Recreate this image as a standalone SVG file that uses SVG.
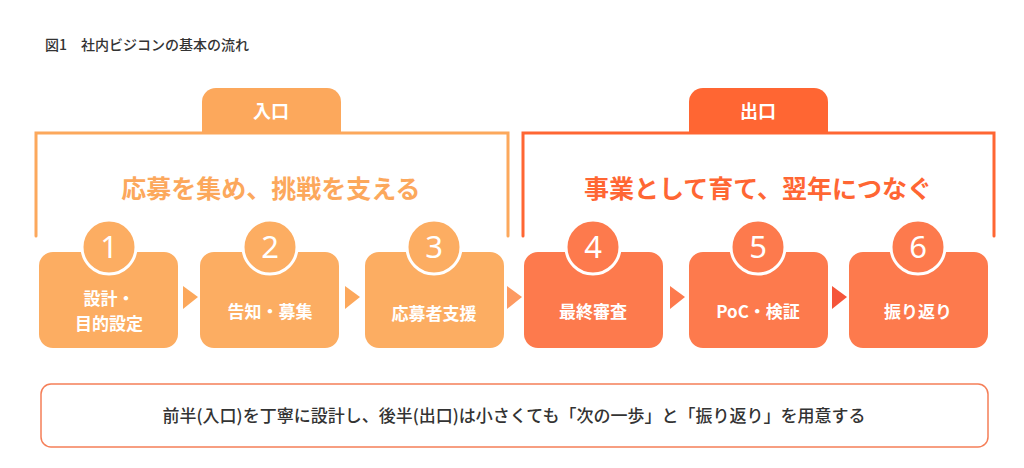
<svg xmlns="http://www.w3.org/2000/svg" width="1024" height="468" viewBox="0 0 1024 468">
<style>
text{font-family:"Noto Sans CJK JP","Noto Sans",sans-serif;font-weight:bold}
.w{fill:#fff}
.num{font-family:"Noto Sans",sans-serif;font-weight:normal;font-size:31px;fill:#fff;text-anchor:middle}
.lbl{font-size:17px;fill:#fff;text-anchor:middle}
.a{fill:#FCAD62}.b{fill:#FD7A4D}
</style>
<rect width="1024" height="468" fill="#fff"/>
<text x="45" y="50" font-size="14" fill="#333" style="font-weight:500">図1　社内ビジコンの基本の流れ</text>
<g id="entrance">
<rect x="202" y="88" width="139" height="46" rx="14" fill="#FCA85C"/>
<rect x="202" y="120" width="139" height="14" fill="#FCA85C"/>
<text x="271" y="118" font-size="18" class="w" text-anchor="middle">入口</text>
<path d="M36 236V133H508V236" fill="none" stroke="#FCA85C" stroke-width="3" stroke-linecap="round"/>
<text x="271" y="198" font-size="25" fill="#FCA85C" text-anchor="middle">応募を集め、挑戦を支える</text>
</g>
<g id="exit">
<rect x="689" y="88" width="139" height="46" rx="14" fill="#FF6633"/>
<rect x="689" y="120" width="139" height="14" fill="#FF6633"/>
<text x="758" y="118" font-size="18" class="w" text-anchor="middle">出口</text>
<path d="M523 236V133H994V236" fill="none" stroke="#FF6633" stroke-width="3" stroke-linecap="round"/>
<text x="758" y="198" font-size="25" fill="#FF6633" text-anchor="middle">事業として育て、翌年につなぐ</text>
</g>
<g id="connectors">
<polygon points="183,286 198,297 183,309" fill="#FCA85C"/>
<polygon points="345,286 360,297 345,309" fill="#FCA85C"/>
<polygon points="507,286 522,297 507,309" fill="#FD9A62"/>
<polygon points="670,286 685,297 670,309" fill="#FD7A4D"/>
<polygon points="832,286 847,297 832,309" fill="#F5553A"/>
</g>
<g id="n1"><rect class="a" x="39" y="252" width="139" height="96" rx="14"/><circle class="a" cx="109" cy="247" r="27" stroke="#fff" stroke-width="3"/><text class="num" x="109" y="258">1</text><text class="lbl" x="109" y="305">設計・</text><text class="lbl" x="109" y="330">目的設定</text></g>
<g id="n2"><rect class="a" x="200" y="252" width="139" height="96" rx="14"/><circle class="a" cx="270" cy="247" r="27" stroke="#fff" stroke-width="3"/><text class="num" x="270" y="258">2</text><text class="lbl" x="270" y="318">告知・募集</text></g>
<g id="n3"><rect class="a" x="365" y="252" width="139" height="96" rx="14"/><circle class="a" cx="434" cy="247" r="27" stroke="#fff" stroke-width="3"/><text class="num" x="434" y="258">3</text><text class="lbl" x="434" y="320">応募者支援</text></g>
<g id="n4"><rect class="b" x="524" y="252" width="139" height="96" rx="14"/><circle class="b" cx="593" cy="247" r="27" stroke="#fff" stroke-width="3"/><text class="num" x="593" y="258">4</text><text class="lbl" x="593" y="318">最終審査</text></g>
<g id="n5"><rect class="b" x="689" y="252" width="139" height="96" rx="14"/><circle class="b" cx="758" cy="247" r="27" stroke="#fff" stroke-width="3"/><text class="num" x="758" y="258">5</text><text class="lbl" x="758" y="318">PoC・検証</text></g>
<g id="n6"><rect class="b" x="849" y="252" width="139" height="96" rx="14"/><circle class="b" cx="918" cy="247" r="27" stroke="#fff" stroke-width="3"/><text class="num" x="918" y="258">6</text><text class="lbl" x="918" y="318">振り返り</text></g>
<g id="summary">
<rect x="41" y="384" width="947" height="63" rx="10" fill="#fff" stroke="#F57F58" stroke-width="1.5"/>
<text x="514" y="422" font-size="17" style="font-weight:500" fill="#333" text-anchor="middle">前半(入口)を丁寧に設計し、後半(出口)は小さくても「次の一歩」と「振り返り」を用意する</text>
</g>
</svg>
